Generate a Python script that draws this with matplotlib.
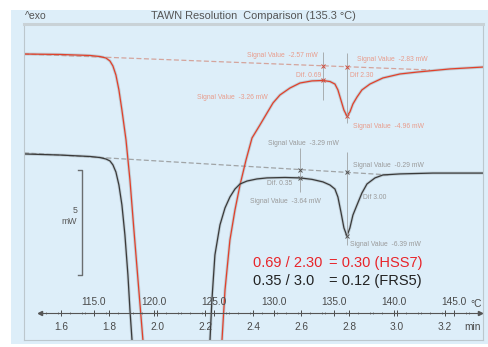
import matplotlib
matplotlib.use("Agg")
import matplotlib.pyplot as plt
from matplotlib.patches import Rectangle
import numpy as np

plt.rcParams['font.family'] = ['Liberation Sans', 'DejaVu Sans']

# ---------------- data (temperature in degC, heat flow in mW) ----------------
red_T = [109.17, 112.17, 114.67, 115.50, 116.00, 116.33, 116.58, 116.83, 117.08, 117.33,
         117.67, 118.00, 118.33, 118.67, 119.08, 119.33,
         125.33, 125.67, 125.92, 126.33, 126.75, 127.17, 127.67, 128.17, 128.83, 129.42,
         129.92, 130.50, 131.33, 132.17, 133.17, 134.08, 134.67, 135.08, 135.33, 135.58,
         135.83, 136.08, 136.33, 136.58, 136.92, 137.33, 138.00, 139.08, 140.50, 141.92,
         144.67, 147.42]
red_mW = [4.57, 4.55, 4.50, 4.45, 4.38, 4.24, 4.00, 3.57, 2.86, 1.90,
          0.48, -1.43, -3.81, -6.19, -9.05, -10.95,
          -10.95, -9.05, -6.67, -4.29, -2.86, -1.67, -0.48, 0.57, 1.19, 1.76,
          2.24, 2.62, 2.95, 3.19, 3.29, 3.31, 3.26, 3.14, 2.86, 2.38,
          1.90, 1.62, 1.81, 2.19, 2.52, 2.86, 3.14, 3.43, 3.62, 3.71,
          3.86, 3.95]

blk_T = [109.17, 112.17, 114.67, 115.50, 116.00, 116.33, 116.58, 116.83, 117.08, 117.33,
         117.58, 117.83, 118.00, 118.17, 118.33,
         124.50, 124.67, 124.83, 125.08, 125.50, 125.92, 126.33, 126.75, 127.17, 127.75,
         128.58, 129.42, 130.92, 132.17, 133.17, 134.08, 134.67, 135.08, 135.33, 135.58,
         135.83, 136.08, 136.33, 136.58, 136.92, 137.33, 137.75, 138.42, 139.08, 140.50,
         143.25, 147.42]
blk_mW = [-0.19, -0.24, -0.31, -0.36, -0.43, -0.52, -0.71, -1.05, -1.67, -2.62,
          -4.05, -5.95, -7.62, -9.05, -10.95,
          -10.95, -9.05, -7.14, -5.00, -3.57, -2.76, -2.24, -1.86, -1.62, -1.48,
          -1.38, -1.33, -1.31, -1.33, -1.40, -1.52, -1.67, -1.86, -2.24, -2.95,
          -3.71, -4.10, -3.71, -3.10, -2.62, -2.05, -1.62, -1.33, -1.19, -1.14,
          -1.10, -1.10]

# baselines (start/end)
red_base_T = [109.17, 143.0]
red_base_mW = [4.57, 3.81]
blk_base_T = [109.17, 139.67]
blk_base_mW = [-0.14, -1.19]

# evaluation points (curve point / baseline point)
red_eval_T = [134.08, 136.08]
red_eval_curve = [3.31, 1.62]
red_eval_base = [4.01, 3.97]
blk_eval_T = [132.17, 136.08]
blk_eval_curve = [-1.33, -4.10]
blk_eval_base = [-0.93, -1.07]

scale_bar_mW = 5.0
heating_rate = 20.0        # K/min
t_ref, T_ref = 1.6, 112.25  # time/temperature correspondence

temp_ticks = [115.0, 120.0, 125.0, 130.0, 135.0, 140.0, 145.0]
time_ticks = [1.6, 1.8, 2.0, 2.2, 2.4, 2.6, 2.8, 3.0, 3.2]

# ---------------- figure ----------------
W, H = 489, 347
fig = plt.figure(figsize=(W / 100, H / 100), dpi=100)
fig.patch.set_facecolor('white')
bg = '#ddeef9'
fig.patches.append(Rectangle((11 / W, 1 - 344 / H), 478 / W, 334 / H,
                             transform=fig.transFigure, facecolor=bg,
                             edgecolor='none', zorder=-10))

def px2fig(x, y):
    return x / W, 1 - y / H

l, r, t, b = 24, 483, 24, 340
ax = fig.add_axes([l / W, 1 - b / H, (r - l) / W, (b - t) / H])
ax.set_facecolor(bg)
ax.set_xlim(109.17, 147.42)
ax.set_ylim(-9.05, 6.0)
ax.set_xticks([]); ax.set_yticks([])
for s in ax.spines.values():
    s.set_color('#bcc7cd'); s.set_linewidth(0.8)
ax.spines['top'].set_linewidth(2.2)
ax.spines['top'].set_color('#c9d2d7')

halo = dict(color='#8c979d', lw=2.2, alpha=0.35, solid_capstyle='round')
# baselines
ax.plot(red_base_T, red_base_mW, ls=(0, (4, 2)), color='#d4a49c', lw=0.9)
ax.plot(blk_base_T, blk_base_mW, ls=(0, (4, 2)), color='#a0a4a6', lw=0.9)
# curves
ax.plot(red_T, red_mW, **halo)
ax.plot(red_T, red_mW, color='#e2402a', lw=0.9)
ax.plot(blk_T, blk_mW, **halo)
ax.plot(blk_T, blk_mW, color='#3a3a3a', lw=0.9)

# evaluation vertical lines and markers
vcol = '#a8adb0'
ax.vlines(red_eval_T[0], 2.38, 4.67, color=vcol, lw=0.7)
ax.vlines(red_eval_T[1], 1.29, 4.62, color=vcol, lw=0.7)
ax.vlines(blk_eval_T[0], -2.0, 0.10, color=vcol, lw=0.7)
ax.vlines(blk_eval_T[1], -4.52, -0.10, color=vcol, lw=0.7)
ax.plot(red_eval_T, red_eval_curve, ls='none', marker='x', ms=2.5, mew=0.7, color='#d05040')
ax.plot(red_eval_T, red_eval_base, ls='none', marker='x', ms=2.5, mew=0.7, color='#d05040')
ax.plot(blk_eval_T, blk_eval_curve, ls='none', marker='x', ms=2.5, mew=0.7, color='#555555')
ax.plot(blk_eval_T, blk_eval_base, ls='none', marker='x', ms=2.5, mew=0.7, color='#555555')

rc = '#e89c8c'; gc = '#9a9a9a'; fs = 4.9
ax.text(133.67, 4.52, 'Signal Value  -2.57 mW', color=rc, fontsize=fs, ha='right', va='center')
ax.text(136.92, 4.33, 'Signal Value  -2.83 mW', color=rc, fontsize=fs, ha='left', va='center')
ax.text(133.92, 3.57, 'Dif. 0.69', color=rc, fontsize=fs, ha='right', va='center')
ax.text(136.33, 3.57, 'Dif 2.30', color=rc, fontsize=fs, ha='left', va='center')
ax.text(129.5, 2.52, 'Signal Value  -3.26 mW', color=rc, fontsize=fs, ha='right', va='center')
ax.text(136.58, 1.14, 'Signal Value  -4.96 mW', color=rc, fontsize=fs, ha='left', va='center')

ax.text(132.42, 0.33, 'Signal Value  -3.29 mW', color=gc, fontsize=fs, ha='center', va='center')
ax.text(136.58, -0.76, 'Signal Value  -0.29 mW', color=gc, fontsize=fs, ha='left', va='center')
ax.text(131.5, -1.62, 'Dif. 0.35', color=gc, fontsize=fs, ha='right', va='center')
ax.text(128.0, -2.43, 'Signal Value  -3.64 mW', color=gc, fontsize=fs, ha='left', va='center')
ax.text(137.42, -2.24, 'Dif 3.00', color=gc, fontsize=fs, ha='left', va='center')
ax.text(136.33, -4.48, 'Signal Value  -6.39 mW', color=gc, fontsize=fs, ha='left', va='center')

# ratio texts
ax.text(128.25, -5.38, '0.69 / 2.30', color='#e8242a', fontsize=10.5, ha='left', va='center')
ax.text(134.6, -5.38, '= 0.30 (HSS7)', color='#e8242a', fontsize=10.5, ha='left', va='center')
ax.text(128.25, -6.24, '0.35 / 3.0', color='#222222', fontsize=10.5, ha='left', va='center')
ax.text(134.6, -6.24, '= 0.12 (FRS5)', color='#222222', fontsize=10.5, ha='left', va='center')

# scale bar
sb_top = -0.95
sb_x = 114.0
ax.plot([sb_x - 0.33, sb_x, sb_x, sb_x - 0.33],
        [sb_top, sb_top, sb_top - scale_bar_mW, sb_top - scale_bar_mW],
        color='#6a6e70', lw=1.0)
ax.text(113.6, -2.90, f'{scale_bar_mW:g}', color='#555555', fontsize=6.3, ha='right', va='center')
ax.text(113.6, -3.43, 'mW', color='#555555', fontsize=6.3, ha='right', va='center')

# title
fig.text(*px2fig(25, 16), '^exo', fontsize=7.5, color='#555555', ha='left', va='center')
fig.text(*px2fig(253, 16), 'TAWN Resolution  Comparison (135.3 °C)', fontsize=7.9,
         color='#555555', ha='center', va='center')

# ---------------- inner temperature / time axis ----------------
def T_of_x(xp):
    return 115 + (xp - 94) / 12.0

ax2 = fig.add_axes([40 / W, 1 - 313 / H, 440 / W, 1e-5])
ax2.set_facecolor('none')
ax2.set_xlim(T_of_x(40), T_of_x(480))
ax2.set_yticks([])
for s in ['left', 'right', 'bottom']:
    ax2.spines[s].set_visible(False)
ax2.spines['top'].set_color('#555555'); ax2.spines['top'].set_linewidth(0.8)
ax2.xaxis.set_ticks_position('top')
ax2.xaxis.set_label_position('top')
ax2.set_xticks(temp_ticks)
ax2.set_xticklabels([f'{v:.1f}' for v in temp_ticks])
ax2.set_xticks(np.arange(111, 148, 1.0), minor=True)
ax2.tick_params(axis='x', which='major', direction='inout', length=4, width=0.7,
                pad=2, labelsize=7.3, colors='#4a4a4a')
ax2.tick_params(axis='x', which='minor', direction='inout', length=2, width=0.5,
                colors='#555555')

f_t = lambda T: t_ref + (np.asarray(T) - T_ref) / heating_rate
f_T = lambda tt: T_ref + (np.asarray(tt) - t_ref) * heating_rate
sec = ax2.secondary_xaxis('bottom', functions=(f_t, f_T))
sec.spines['bottom'].set_visible(False)
sec.set_xticks(time_ticks)
sec.set_xticklabels([f'{v:.1f}' for v in time_ticks])
sec.set_xticks(np.arange(1.5, 3.35, 0.1), minor=True)
sec.tick_params(axis='x', which='major', direction='inout', length=4, width=0.7,
                pad=4.5, labelsize=7.3, colors='#4a4a4a')
sec.tick_params(axis='x', which='minor', direction='inout', length=2, width=0.5,
                colors='#555555')
ax2.plot([0], [0], marker='<', ms=3, color='#555555', transform=ax2.transAxes, clip_on=False)
ax2.plot([1], [0], marker='>', ms=3, color='#555555', transform=ax2.transAxes, clip_on=False)

fig.text(*px2fig(470, 304), '°C', fontsize=7.3, color='#4a4a4a', ha='left', va='center')
fig.text(*px2fig(464, 327), 'min', fontsize=7.3, color='#4a4a4a', ha='left', va='center')

fig.savefig('out.png', dpi=100, facecolor='white')
